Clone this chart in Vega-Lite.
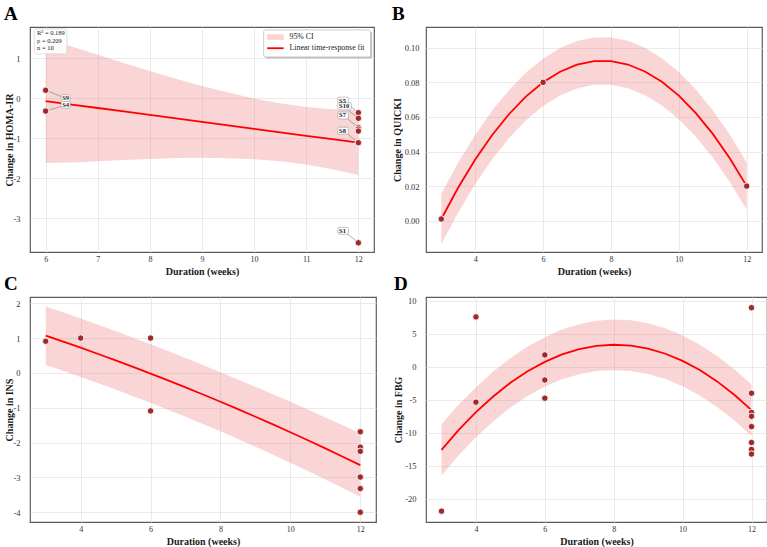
{
  "$schema": "https://vega.github.io/schema/vega-lite/v6.json",
  "padding": {"left": 3, "top": 4, "right": 2, "bottom": 2},
  "background": "white",
  "datasets": {
    "pointsA": [
      {"study": "S9", "dur": 6, "val": 0.2},
      {"study": "S4", "dur": 6, "val": -0.32},
      {"study": "S5", "dur": 12, "val": -0.36},
      {"study": "S10", "dur": 12, "val": -0.5},
      {"study": "S7", "dur": 12, "val": -0.73},
      {"study": "S6", "dur": 12, "val": -0.77},
      {"study": "S3", "dur": 12, "val": -0.82},
      {"study": "S8", "dur": 12, "val": -1.11},
      {"study": "S2", "dur": 12, "val": -1.11},
      {"study": "S1", "dur": 12, "val": -3.61}
    ],
    "fitA": [
      {"dur": 6, "val": -0.07, "lo": -1.62, "hi": 1.48},
      {"dur": 6.5, "val": -0.157, "lo": -1.607, "hi": 1.293},
      {"dur": 7, "val": -0.243, "lo": -1.573, "hi": 1.087},
      {"dur": 7.5, "val": -0.33, "lo": -1.54, "hi": 0.88},
      {"dur": 8, "val": -0.417, "lo": -1.517, "hi": 0.683},
      {"dur": 8.5, "val": -0.503, "lo": -1.493, "hi": 0.487},
      {"dur": 9, "val": -0.59, "lo": -1.485, "hi": 0.305},
      {"dur": 9.5, "val": -0.677, "lo": -1.497, "hi": 0.143},
      {"dur": 10, "val": -0.763, "lo": -1.523, "hi": -0.003},
      {"dur": 10.5, "val": -0.85, "lo": -1.575, "hi": -0.125},
      {"dur": 11, "val": -0.937, "lo": -1.657, "hi": -0.217},
      {"dur": 11.5, "val": -1.023, "lo": -1.773, "hi": -0.273},
      {"dur": 12, "val": -1.11, "lo": -1.915, "hi": -0.305}
    ],
    "legendA": [
      {"label": "95% CI", "ly": 1.52},
      {"label": "Linear time-response fit", "ly": 1.25}
    ],
    "pointsB": [
      {"dur": 3, "val": 0.001},
      {"dur": 6, "val": 0.08},
      {"dur": 12, "val": 0.02}
    ],
    "fitB": [
      {"dur": 3, "val": 0.001, "lo": -0.0136, "hi": 0.0156},
      {"dur": 3.5, "val": 0.0192, "lo": 0.0048, "hi": 0.0336},
      {"dur": 4, "val": 0.0354, "lo": 0.0212, "hi": 0.0496},
      {"dur": 4.5, "val": 0.0496, "lo": 0.0355, "hi": 0.0637},
      {"dur": 5, "val": 0.0617, "lo": 0.0478, "hi": 0.0756},
      {"dur": 5.5, "val": 0.0719, "lo": 0.0581, "hi": 0.0857},
      {"dur": 6, "val": 0.08, "lo": 0.0663, "hi": 0.0937},
      {"dur": 6.5, "val": 0.0861, "lo": 0.0724, "hi": 0.0998},
      {"dur": 7, "val": 0.0902, "lo": 0.0765, "hi": 0.1039},
      {"dur": 7.5, "val": 0.0923, "lo": 0.0786, "hi": 0.106},
      {"dur": 8, "val": 0.0923, "lo": 0.0786, "hi": 0.106},
      {"dur": 8.5, "val": 0.0903, "lo": 0.0766, "hi": 0.104},
      {"dur": 9, "val": 0.0863, "lo": 0.0726, "hi": 0.1},
      {"dur": 9.5, "val": 0.0803, "lo": 0.0666, "hi": 0.094},
      {"dur": 10, "val": 0.0723, "lo": 0.0586, "hi": 0.086},
      {"dur": 10.5, "val": 0.0622, "lo": 0.0485, "hi": 0.0759},
      {"dur": 11, "val": 0.0502, "lo": 0.0365, "hi": 0.0639},
      {"dur": 11.5, "val": 0.0361, "lo": 0.0224, "hi": 0.0498},
      {"dur": 12, "val": 0.02, "lo": 0.0063, "hi": 0.0337}
    ],
    "pointsC": [
      {"dur": 3, "val": 0.91},
      {"dur": 4, "val": 1.0},
      {"dur": 6, "val": 1.0},
      {"dur": 6, "val": -1.09},
      {"dur": 12, "val": -1.69},
      {"dur": 12, "val": -2.13},
      {"dur": 12, "val": -2.25},
      {"dur": 12, "val": -2.99},
      {"dur": 12, "val": -3.32},
      {"dur": 12, "val": -4.0}
    ],
    "fitC": [
      {"dur": 3, "val": 1.07, "lo": 0.23, "hi": 1.91},
      {"dur": 3.5, "val": 0.899, "lo": 0.059, "hi": 1.739},
      {"dur": 4, "val": 0.724, "lo": -0.116, "hi": 1.564},
      {"dur": 4.5, "val": 0.544, "lo": -0.296, "hi": 1.384},
      {"dur": 5, "val": 0.361, "lo": -0.479, "hi": 1.201},
      {"dur": 5.5, "val": 0.173, "lo": -0.667, "hi": 1.013},
      {"dur": 6, "val": -0.019, "lo": -0.859, "hi": 0.821},
      {"dur": 6.5, "val": -0.215, "lo": -1.057, "hi": 0.627},
      {"dur": 7, "val": -0.415, "lo": -1.26, "hi": 0.43},
      {"dur": 7.5, "val": -0.62, "lo": -1.468, "hi": 0.228},
      {"dur": 8, "val": -0.828, "lo": -1.678, "hi": 0.022},
      {"dur": 8.5, "val": -1.041, "lo": -1.896, "hi": -0.186},
      {"dur": 9, "val": -1.258, "lo": -2.118, "hi": -0.398},
      {"dur": 9.5, "val": -1.479, "lo": -2.346, "hi": -0.612},
      {"dur": 10, "val": -1.704, "lo": -2.579, "hi": -0.829},
      {"dur": 10.5, "val": -1.934, "lo": -2.816, "hi": -1.052},
      {"dur": 11, "val": -2.167, "lo": -3.057, "hi": -1.277},
      {"dur": 11.5, "val": -2.405, "lo": -3.305, "hi": -1.505},
      {"dur": 12, "val": -2.647, "lo": -3.557, "hi": -1.737}
    ],
    "pointsD": [
      {"dur": 3, "val": -21.9},
      {"dur": 4, "val": 7.58},
      {"dur": 4, "val": -5.36},
      {"dur": 6, "val": 1.81},
      {"dur": 6, "val": -2.0},
      {"dur": 6, "val": -4.76},
      {"dur": 12, "val": 8.98},
      {"dur": 12, "val": -3.96},
      {"dur": 12, "val": -4.0},
      {"dur": 12, "val": -6.92},
      {"dur": 12, "val": -7.5},
      {"dur": 12, "val": -9.07},
      {"dur": 12, "val": -11.48},
      {"dur": 12, "val": -12.54},
      {"dur": 12, "val": -13.24}
    ],
    "fitD": [
      {"dur": 3, "val": -12.59, "lo": -16.49, "hi": -8.69},
      {"dur": 3.5, "val": -9.58, "lo": -13.43, "hi": -5.73},
      {"dur": 4, "val": -6.88, "lo": -10.68, "hi": -3.08},
      {"dur": 4.5, "val": -4.5, "lo": -8.28, "hi": -0.72},
      {"dur": 5, "val": -2.43, "lo": -6.18, "hi": 1.32},
      {"dur": 5.5, "val": -0.68, "lo": -4.43, "hi": 3.07},
      {"dur": 6, "val": 0.75, "lo": -3.0, "hi": 4.5},
      {"dur": 6.5, "val": 1.88, "lo": -1.9, "hi": 5.66},
      {"dur": 7, "val": 2.68, "lo": -1.12, "hi": 6.48},
      {"dur": 7.5, "val": 3.17, "lo": -0.65, "hi": 6.99},
      {"dur": 8, "val": 3.35, "lo": -0.5, "hi": 7.2},
      {"dur": 8.5, "val": 3.21, "lo": -0.64, "hi": 7.06},
      {"dur": 9, "val": 2.76, "lo": -1.09, "hi": 6.61},
      {"dur": 9.5, "val": 1.99, "lo": -1.86, "hi": 5.84},
      {"dur": 10, "val": 0.9, "lo": -2.95, "hi": 4.75},
      {"dur": 10.5, "val": -0.49, "lo": -4.34, "hi": 3.36},
      {"dur": 11, "val": -2.21, "lo": -6.08, "hi": 1.66},
      {"dur": 11.5, "val": -4.24, "lo": -8.12, "hi": -0.36},
      {"dur": 12, "val": -6.58, "lo": -10.48, "hi": -2.68}
    ]
  },
  "columns": 2,
  "bounds": "flush",
  "spacing": {"row": 45, "column": 50},
  "concat": [
    {
      "width": 344,
      "height": 225,
      "title": {"text": "A", "dx": -26},
      "layer": [
        {
          "data": {"name": "fitA"},
          "mark": {"type": "area", "color": "#f08080", "opacity": 0.33},
          "encoding": {
            "x": {"field": "dur", "type": "quantitative", "scale": {"domain": [5.7, 12.3], "nice": false, "zero": false},
                  "axis": {"title": "Duration (weeks)", "values": [6, 7, 8, 9, 10, 11, 12], "titleY": 22, "titleBaseline": "alphabetic", "labelOverlap": false}},
            "y": {"field": "lo", "type": "quantitative", "scale": {"domain": [-3.84, 1.78], "nice": false, "zero": false},
                  "axis": {"title": "Change in HOMA-IR", "values": [-3, -2, -1, 0, 1], "labelOverlap": false, "labelExpr": "datum.value < 0 ? '-' + format(-datum.value, 'd') : format(datum.value, 'd')", "titleX": -18, "titleBaseline": "alphabetic"}},
            "y2": {"field": "hi"}
          }
        },
        {
          "data": {"name": "fitA"},
          "mark": {"type": "line", "color": "#ff0000", "strokeWidth": 1.8},
          "encoding": {
            "x": {"field": "dur", "type": "quantitative"},
            "y": {"field": "val", "type": "quantitative"}
          }
        },
        {
          "data": {"name": "pointsA"},
          "transform": [{"filter": {"field": "study", "oneOf": ["S5", "S10", "S7", "S8", "S1"]}}],
          "mark": {"type": "rule", "color": "#8c8c8c", "strokeWidth": 0.7, "x2Offset": -15, "y2Offset": -12},
          "encoding": {
            "x": {"field": "dur", "type": "quantitative"},
            "y": {"field": "val", "type": "quantitative"},
            "x2": {"field": "dur"},
            "y2": {"field": "val"}
          }
        },
        {
          "data": {"name": "pointsA"},
          "transform": [{"filter": {"field": "study", "equal": "S9"}}],
          "mark": {"type": "rule", "color": "#8c8c8c", "strokeWidth": 0.7, "x2Offset": 20, "y2Offset": 8},
          "encoding": {
            "x": {"field": "dur", "type": "quantitative"},
            "y": {"field": "val", "type": "quantitative"},
            "x2": {"field": "dur"},
            "y2": {"field": "val"}
          }
        },
        {
          "data": {"name": "pointsA"},
          "transform": [{"filter": {"field": "study", "equal": "S4"}}],
          "mark": {"type": "rule", "color": "#8c8c8c", "strokeWidth": 0.7, "x2Offset": 20, "y2Offset": -6},
          "encoding": {
            "x": {"field": "dur", "type": "quantitative"},
            "y": {"field": "val", "type": "quantitative"},
            "x2": {"field": "dur"},
            "y2": {"field": "val"}
          }
        },
        {
          "data": {"name": "pointsA"},
          "mark": {"type": "point", "filled": true, "color": "#a0292b", "size": 42, "stroke": "white", "strokeWidth": 0.9, "opacity": 1},
          "encoding": {
            "x": {"field": "dur", "type": "quantitative"},
            "y": {"field": "val", "type": "quantitative"}
          }
        },
        {
          "data": {"name": "pointsA"},
          "transform": [{"filter": {"field": "study", "oneOf": ["S5", "S7", "S8", "S1"]}}],
          "mark": {"type": "rect", "fill": "white", "stroke": "#9a9a9a", "strokeWidth": 0.6, "cornerRadius": 1, "xOffset": -20.5, "x2Offset": -10, "yOffset": -15.5, "y2Offset": -8.5},
          "encoding": {
            "x": {"field": "dur", "type": "quantitative"},
            "y": {"field": "val", "type": "quantitative"},
            "x2": {"field": "dur"},
            "y2": {"field": "val"}
          }
        },
        {
          "data": {"name": "pointsA"},
          "transform": [{"filter": {"field": "study", "equal": "S10"}}],
          "mark": {"type": "rect", "fill": "white", "stroke": "#9a9a9a", "strokeWidth": 0.6, "cornerRadius": 1, "xOffset": -20.5, "x2Offset": -7, "yOffset": -15.5, "y2Offset": -8.5},
          "encoding": {
            "x": {"field": "dur", "type": "quantitative"},
            "y": {"field": "val", "type": "quantitative"},
            "x2": {"field": "dur"},
            "y2": {"field": "val"}
          }
        },
        {
          "data": {"name": "pointsA"},
          "transform": [{"filter": {"field": "study", "oneOf": ["S5", "S10", "S7", "S8", "S1"]}}],
          "mark": {"type": "text", "font": "Liberation Serif", "fontWeight": "bold", "fontSize": 6.5, "color": "#222222", "align": "left", "baseline": "middle", "dx": -19.3, "dy": -12},
          "encoding": {
            "x": {"field": "dur", "type": "quantitative"},
            "y": {"field": "val", "type": "quantitative"},
            "text": {"field": "study"}
          }
        },
        {
          "data": {"name": "pointsA"},
          "transform": [{"filter": {"field": "study", "equal": "S9"}}],
          "mark": {"type": "rect", "fill": "white", "stroke": "#9a9a9a", "strokeWidth": 0.6, "cornerRadius": 1, "xOffset": 15.5, "x2Offset": 24.5, "yOffset": 4.5, "y2Offset": 11.2},
          "encoding": {
            "x": {"field": "dur", "type": "quantitative"},
            "y": {"field": "val", "type": "quantitative"},
            "x2": {"field": "dur"},
            "y2": {"field": "val"}
          }
        },
        {
          "data": {"name": "pointsA"},
          "transform": [{"filter": {"field": "study", "equal": "S4"}}],
          "mark": {"type": "rect", "fill": "white", "stroke": "#9a9a9a", "strokeWidth": 0.6, "cornerRadius": 1, "xOffset": 15.5, "x2Offset": 24.5, "yOffset": -9.5, "y2Offset": -2.8},
          "encoding": {
            "x": {"field": "dur", "type": "quantitative"},
            "y": {"field": "val", "type": "quantitative"},
            "x2": {"field": "dur"},
            "y2": {"field": "val"}
          }
        },
        {
          "data": {"name": "pointsA"},
          "transform": [{"filter": {"field": "study", "equal": "S9"}}],
          "mark": {"type": "text", "font": "Liberation Serif", "fontWeight": "bold", "fontSize": 6.5, "color": "#222222", "align": "center", "baseline": "middle", "dx": 20, "dy": 7.9},
          "encoding": {
            "x": {"field": "dur", "type": "quantitative"},
            "y": {"field": "val", "type": "quantitative"},
            "text": {"field": "study"}
          }
        },
        {
          "data": {"name": "pointsA"},
          "transform": [{"filter": {"field": "study", "equal": "S4"}}],
          "mark": {"type": "text", "font": "Liberation Serif", "fontWeight": "bold", "fontSize": 6.5, "color": "#222222", "align": "center", "baseline": "middle", "dx": 20, "dy": -6.1},
          "encoding": {
            "x": {"field": "dur", "type": "quantitative"},
            "y": {"field": "val", "type": "quantitative"},
            "text": {"field": "study"}
          }
        },
        {
          "data": {"values": [{}]},
          "mark": {"type": "rect", "fill": "white", "fillOpacity": 0.85, "stroke": "#d0d0d0", "strokeWidth": 0.7, "cornerRadius": 2},
          "encoding": {
            "x": {"datum": 5.782, "type": "quantitative"},
            "x2": {"datum": 6.41},
            "y": {"datum": 1.7325, "type": "quantitative"},
            "y2": {"datum": 1.1075}
          }
        },
        {
          "data": {"values": [{}]},
          "mark": {"type": "text", "font": "Liberation Serif", "fontSize": 6.5, "color": "#222222", "align": "left", "baseline": "top", "lineHeight": 7.8},
          "encoding": {
            "x": {"datum": 5.835, "type": "quantitative"},
            "y": {"datum": 1.71, "type": "quantitative"},
            "text": {"value": ["R² = 0.189", "p = 0.209", "n = 10"]}
          }
        },
        {
          "data": {"values": [{}]},
          "mark": {"type": "rect", "fill": "#c4c4c4", "cornerRadius": 2},
          "encoding": {
            "x": {"datum": 10.215, "type": "quantitative"},
            "x2": {"datum": 12.265},
            "y": {"datum": 1.67, "type": "quantitative"},
            "y2": {"datum": 0.995}
          }
        },
        {
          "data": {"values": [{}]},
          "mark": {"type": "rect", "fill": "white", "stroke": "#b8b8b8", "strokeWidth": 0.7, "cornerRadius": 2},
          "encoding": {
            "x": {"datum": 10.183, "type": "quantitative"},
            "x2": {"datum": 12.233},
            "y": {"datum": 1.7075, "type": "quantitative"},
            "y2": {"datum": 1.0325}
          }
        },
        {
          "data": {"values": [{}]},
          "mark": {"type": "rect", "fill": "#f08080", "opacity": 0.33},
          "encoding": {
            "x": {"datum": 10.25, "type": "quantitative"},
            "x2": {"datum": 10.566},
            "y": {"datum": 1.6, "type": "quantitative"},
            "y2": {"datum": 1.4575}
          }
        },
        {
          "data": {"values": [{}]},
          "mark": {"type": "rule", "color": "#ff0000", "strokeWidth": 1.8},
          "encoding": {
            "x": {"datum": 10.25, "type": "quantitative"},
            "x2": {"datum": 10.566},
            "y": {"datum": 1.25, "type": "quantitative"}
          }
        },
        {
          "data": {"name": "legendA"},
          "mark": {"type": "text", "font": "Liberation Serif", "fontSize": 7.8, "color": "#222222", "align": "left", "baseline": "middle"},
          "encoding": {
            "x": {"datum": 10.68, "type": "quantitative"},
            "y": {"field": "ly", "type": "quantitative"},
            "text": {"field": "label"}
          }
        }
      ]
    },
    {
      "width": 336,
      "height": 225,
      "title": {"text": "B", "dx": -34},
      "encoding": {
        "x": {"field": "dur", "type": "quantitative", "scale": {"domain": [2.55, 12.45], "nice": false, "zero": false},
              "axis": {"title": "Duration (weeks)", "values": [4, 6, 8, 10, 12], "titleY": 22, "titleBaseline": "alphabetic", "labelOverlap": false}},
        "y": {"field": "val", "type": "quantitative", "scale": {"domain": [-0.0181, 0.112], "nice": false, "zero": false},
              "axis": {"title": "Change in QUICKI", "values": [0, 0.02, 0.04, 0.06, 0.08, 0.1], "labelOverlap": false, "labelExpr": "format(datum.value, '.2f')", "titleX": -26, "titleBaseline": "alphabetic", "labelPadding": 7}}
      },
      "layer": [
        {
          "data": {"name": "fitB"},
          "mark": {"type": "area", "color": "#f08080", "opacity": 0.33},
          "encoding": {
            "y": {"field": "lo", "type": "quantitative", "scale": {"domain": [-0.0181, 0.112], "nice": false, "zero": false},
                  "axis": {"title": "Change in QUICKI", "values": [0, 0.02, 0.04, 0.06, 0.08, 0.1], "labelOverlap": false, "labelExpr": "format(datum.value, '.2f')", "titleX": -26, "titleBaseline": "alphabetic", "labelPadding": 7}},
            "y2": {"field": "hi"}
          }
        },
        {
          "data": {"name": "fitB"},
          "mark": {"type": "line", "color": "#ff0000", "strokeWidth": 1.8}
        },
        {
          "data": {"name": "pointsB"},
          "mark": {"type": "point", "filled": true, "color": "#a0292b", "size": 42, "stroke": "white", "strokeWidth": 0.9, "opacity": 1}
        }
      ]
    },
    {
      "width": 346,
      "height": 225,
      "title": {"text": "C", "dx": -26},
      "encoding": {
        "x": {"field": "dur", "type": "quantitative", "scale": {"domain": [2.55, 12.45], "nice": false, "zero": false},
              "axis": {"title": "Duration (weeks)", "values": [4, 6, 8, 10, 12], "titleY": 22, "titleBaseline": "alphabetic", "labelOverlap": false}},
        "y": {"field": "val", "type": "quantitative", "scale": {"domain": [-4.28, 2.18], "nice": false, "zero": false},
              "axis": {"title": "Change in INS", "values": [-4, -3, -2, -1, 0, 1, 2], "labelOverlap": false, "labelExpr": "datum.value < 0 ? '-' + format(-datum.value, 'd') : format(datum.value, 'd')", "titleX": -18, "titleBaseline": "alphabetic"}}
      },
      "layer": [
        {
          "data": {"name": "fitC"},
          "mark": {"type": "area", "color": "#f08080", "opacity": 0.33},
          "encoding": {
            "y": {"field": "lo", "type": "quantitative", "scale": {"domain": [-4.28, 2.18], "nice": false, "zero": false},
                  "axis": {"title": "Change in INS", "values": [-4, -3, -2, -1, 0, 1, 2], "labelOverlap": false, "labelExpr": "datum.value < 0 ? '-' + format(-datum.value, 'd') : format(datum.value, 'd')", "titleX": -18, "titleBaseline": "alphabetic"}},
            "y2": {"field": "hi"}
          }
        },
        {
          "data": {"name": "fitC"},
          "mark": {"type": "line", "color": "#ff0000", "strokeWidth": 1.8}
        },
        {
          "data": {"name": "pointsC"},
          "mark": {"type": "point", "filled": true, "color": "#a0292b", "size": 42, "stroke": "white", "strokeWidth": 0.9, "opacity": 1}
        }
      ]
    },
    {
      "width": 341,
      "height": 225,
      "title": {"text": "D", "dx": -32},
      "encoding": {
        "x": {"field": "dur", "type": "quantitative", "scale": {"domain": [2.55, 12.45], "nice": false, "zero": false},
              "axis": {"title": "Duration (weeks)", "values": [4, 6, 8, 10, 12], "titleY": 22, "titleBaseline": "alphabetic", "labelOverlap": false}},
        "y": {"field": "val", "type": "quantitative", "scale": {"domain": [-23.55, 10.6], "nice": false, "zero": false},
              "axis": {"title": "Change in FBG", "values": [-20, -15, -10, -5, 0, 5, 10], "labelOverlap": false, "labelExpr": "datum.value < 0 ? '-' + format(-datum.value, 'd') : format(datum.value, 'd')", "titleX": -25, "titleBaseline": "alphabetic", "labelPadding": 10}}
      },
      "layer": [
        {
          "data": {"name": "fitD"},
          "mark": {"type": "area", "color": "#f08080", "opacity": 0.33},
          "encoding": {
            "y": {"field": "lo", "type": "quantitative", "scale": {"domain": [-23.55, 10.6], "nice": false, "zero": false},
                  "axis": {"title": "Change in FBG", "values": [-20, -15, -10, -5, 0, 5, 10], "labelOverlap": false, "labelExpr": "datum.value < 0 ? '-' + format(-datum.value, 'd') : format(datum.value, 'd')", "titleX": -25, "titleBaseline": "alphabetic", "labelPadding": 10}},
            "y2": {"field": "hi"}
          }
        },
        {
          "data": {"name": "fitD"},
          "mark": {"type": "line", "color": "#ff0000", "strokeWidth": 1.8}
        },
        {
          "data": {"name": "pointsD"},
          "mark": {"type": "point", "filled": true, "color": "#a0292b", "size": 42, "stroke": "white", "strokeWidth": 0.9, "opacity": 1}
        }
      ]
    }
  ],
  "config": {
    "font": "Liberation Serif",
    "view": {"stroke": "#5c5c5c", "strokeWidth": 1.2},
    "axis": {
      "domain": false,
      "ticks": false,
      "grid": true,
      "gridColor": "#e4e4e4",
      "gridWidth": 0.8,
      "labelFont": "Liberation Serif",
      "labelFontSize": 8.5,
      "labelColor": "#333333",
      "titleFont": "Liberation Serif",
      "titleFontSize": 10,
      "titleFontWeight": "bold",
      "titleColor": "#1a1a1a"
    },
    "axisX": {"labelPadding": 3, "labelFontSize": 8},
    "axisY": {"labelPadding": 10},
    "title": {
      "font": "Liberation Serif",
      "fontSize": 19,
      "fontWeight": "bold",
      "anchor": "start",
      "frame": "group",
      "offset": 3,
      "baseline": "alphabetic",
      "color": "#000000"
    }
  }
}
